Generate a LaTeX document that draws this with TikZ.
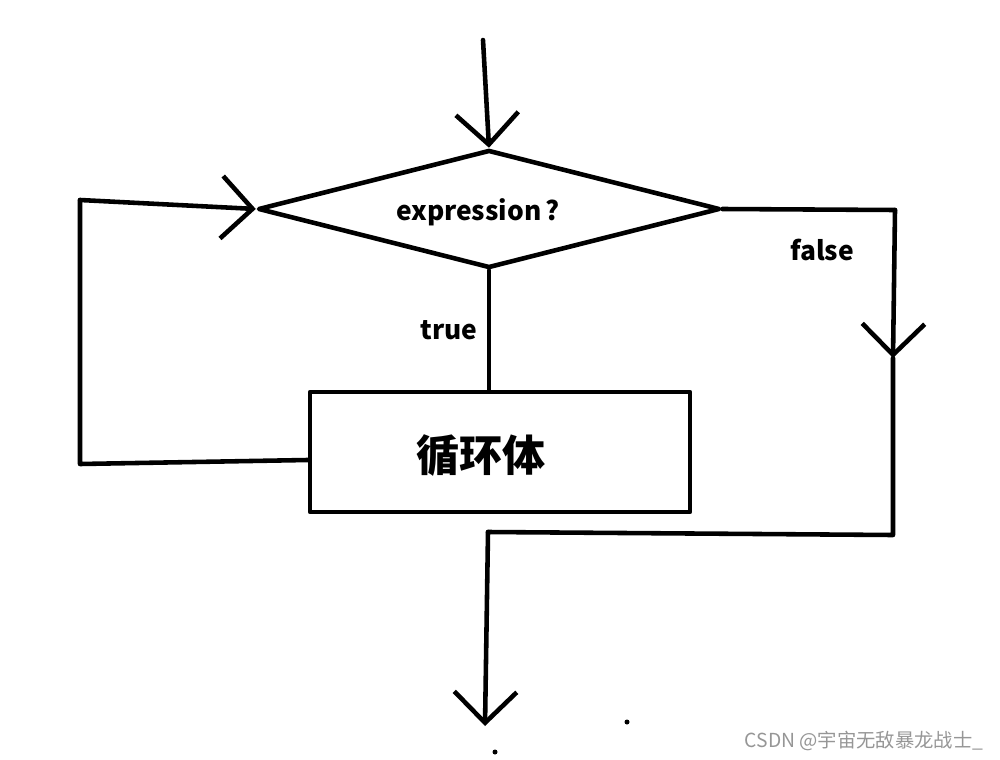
\documentclass[tikz,border=0pt]{standalone}
\usepackage{fontspec}
\setmainfont{Noto Sans CJK SC}
\usetikzlibrary{arrows.meta,calc,positioning,shapes.geometric}
\definecolor{markgray}{RGB}{150,150,150}

\begin{document}
\begin{tikzpicture}[x=0.02cm, y=-0.02cm,
    line width=2.6pt, line cap=round, line join=round,
    flow/.style={-{Straight Barb[length=0.62cm, width=1.25cm, line width=2.6pt]}},
    decision/.style={diamond, draw, minimum width=9.24cm, minimum height=2.36cm, inner sep=0pt},
    loopbox/.style={rectangle, draw, minimum width=7.6cm, minimum height=2.4cm, inner sep=0pt},
    lbl/.style={font=\bfseries\fontsize{15}{18}\selectfont},
    bodytext/.style={font=\bfseries\fontsize{24.5}{28}\selectfont}
  ]
  \useasboundingbox (0,0) rectangle (1000,760);

  % nodes
  \node[decision] (cond) at (489,209) {};
  \node[lbl] (condtext) at (478,212) {expression\,?};
  \node[loopbox] (body) at (500,452) {};
  \node[bodytext] (bodylabel) at (481,456) {循环体};

  % corners
  \coordinate (start) at (483,40);
  \coordinate (fr) at (895,210);
  \coordinate (fmid) at (893,358);
  \coordinate (br) at (893,535);
  \coordinate (bl) at (488,532);
  \coordinate (stop) at (485,726);
  \coordinate (lb) at (80,464);
  \coordinate (lt) at (80,200);

  % connectors
  \draw[flow] (start) -- (cond.north);
  \draw (cond.south) -- (cond.south |- body.north);
  \draw (cond.east) -- (fr);
  \draw[flow] (fr) -- (fmid);
  \draw (fmid) -- (br) -- (bl);
  \draw[flow] (bl) -- (stop);
  \draw ([yshift=-0.16cm]body.west) -- (lb) -- (lt);
  \draw[flow] (lt) -- (cond.west);

  % labels
  \node[lbl] (truelabel) at (449,330) {true};
  \node[lbl] (falselabel) at (822,250) {false};

  % stray dots and watermark
  \fill (627,722) circle (2.5);
  \fill (495,752) circle (2.5);
  \node[text=markgray, font=\fontsize{11}{13}\selectfont] (mark) at (864,741) {CSDN @宇宙无敌暴龙战士\_};
\end{tikzpicture}
\end{document}
